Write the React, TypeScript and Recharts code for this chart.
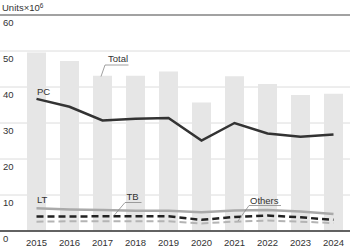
import React from 'react';
import { ComposedChart, Bar, Line, XAxis, YAxis, CartesianGrid, ReferenceLine } from 'recharts';

const years = ['2015', '2016', '2017', '2018', '2019', '2020', '2021', '2022', '2023', '2024'];
const total = [49.6, 47.2, 43.1, 43.1, 44.3, 35.7, 43.0, 40.8, 37.8, 38.1];
const pc = [36.7, 34.5, 30.7, 31.2, 31.4, 25.1, 30.0, 27.1, 26.2, 26.8];
const lt = [6.3, 6.0, 5.8, 5.6, 5.6, 5.2, 5.7, 5.8, 5.4, 4.7];
const tb = [4.0, 4.0, 4.1, 4.1, 4.1, 3.1, 3.9, 4.3, 3.8, 3.1];
const others = [2.6, 2.7, 2.7, 2.7, 2.7, 2.1, 2.6, 2.9, 2.6, 2.2];
const yTicks = [0, 10, 20, 30, 40, 50, 60];

const data = years.map((year, i) => ({
  year,
  total: total[i],
  pc: pc[i],
  lt: lt[i],
  tb: tb[i],
  others: others[i],
}));

const FONT = '"Liberation Sans", Arial, sans-serif';
const INK = '#333';

const YTick = (props: any) => {
  const { y, payload } = props;
  return (
    <text x={3} y={y + 11} fontSize={9.5} fill={INK} fontFamily={FONT}>
      {payload.value}
    </text>
  );
};

const App: React.FC = () => {
  return (
    <div style={{ position: 'fixed', left: 0, top: 0, width: 350, height: 248, background: '#fff' }}>
      <ComposedChart
        width={350}
        height={248}
        data={data}
        margin={{ top: 15, right: 0, bottom: 0, left: 0 }}
        barCategoryGap={14}
      >
        <CartesianGrid vertical={false} stroke="#dcdcdc" strokeWidth={1} />
        <XAxis
          dataKey="year"
          height={17}
          padding={{ left: 20, right: 0 }}
          tickLine={false}
          axisLine={{ stroke: INK, strokeWidth: 1.5 }}
          tick={{ fontSize: 9.5, fill: INK, fontFamily: FONT }}
          interval={0}
        />
        <YAxis
          domain={[0, 60]}
          ticks={yTicks}
          mirror
          width={20}
          axisLine={false}
          tickLine={false}
          tick={<YTick />}
        />
        <ReferenceLine y={60} stroke="#888" strokeWidth={1.5} />
        <Bar dataKey="total" fill="#e6e6e6" barSize={19} isAnimationActive={false} />
        <Line type="linear" dataKey="pc" stroke="#333" strokeWidth={2.5} dot={false} isAnimationActive={false} />
        <Line type="linear" dataKey="lt" stroke="#aaa" strokeWidth={2.5} dot={false} isAnimationActive={false} />
        <Line type="linear" dataKey="others" stroke="#b4b4b4" strokeWidth={2} strokeDasharray="7 4" dot={false} isAnimationActive={false} />
        <Line type="linear" dataKey="tb" stroke="#222" strokeWidth={2.5} strokeDasharray="7 4" dot={false} isAnimationActive={false} />
      </ComposedChart>

      <svg
        width={350}
        height={248}
        style={{ position: 'absolute', left: 0, top: 0, pointerEvents: 'none' }}
        fontFamily={FONT}
        fontSize={9.5}
        fill={INK}
      >
        <text x={2} y={11}>
          Units×10<tspan dy={-3.5} fontSize={6.5}>6</tspan>
        </text>
        <text x={108} y={61.5}>Total</text>
        <polyline points="101,76.5 105,65 128.5,65" fill="none" stroke="#888" strokeWidth={0.8} />
        <text x={37} y={95}>PC</text>
        <text x={37} y={203}>LT</text>
        <text x={126.5} y={200}>TB</text>
        <polyline points="114,215.5 125,202.5 141.5,202.5" fill="none" stroke="#888" strokeWidth={0.8} />
        <text x={250} y={203.5}>Others</text>
        <polyline points="238,221 249,205.5 281,205.5" fill="none" stroke="#888" strokeWidth={0.8} />
      </svg>
    </div>
  );
};

export default App;
